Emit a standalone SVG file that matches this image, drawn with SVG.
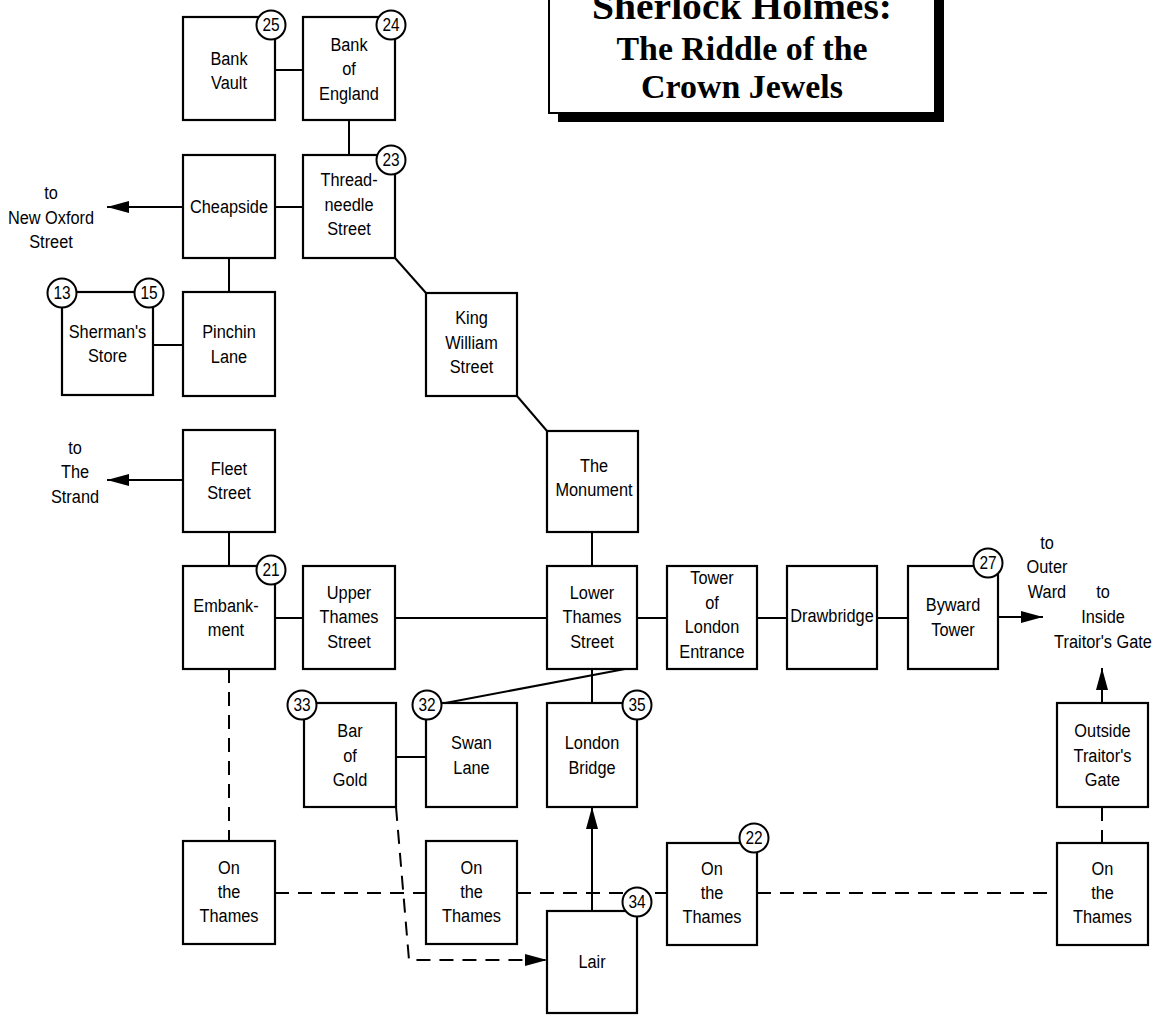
<svg xmlns="http://www.w3.org/2000/svg" width="1165" height="1016" viewBox="0 0 1165 1016">
<style>
.bx{fill:#fff;stroke:#000;stroke-width:2.2}
.ci{fill:#fff;stroke:#000;stroke-width:2}
.t{font-family:"Liberation Sans",Arial,sans-serif;font-size:19px;text-anchor:middle;fill:#000;transform-box:fill-box;transform-origin:center;transform:scaleX(0.86)}
.n{font-family:"Liberation Sans",Arial,sans-serif;font-size:18px;text-anchor:middle;fill:#000;transform-box:fill-box;transform-origin:center;transform:scaleX(0.86)}
.ln{stroke:#000;stroke-width:2;fill:none}
.ds{stroke:#000;stroke-width:2;fill:none;stroke-dasharray:14 9}
.ttl{font-family:"Liberation Serif","Times New Roman",serif;font-weight:bold;text-anchor:middle;fill:#000}
</style>
<defs>
<marker id="ah" markerUnits="userSpaceOnUse" markerWidth="22" markerHeight="12" refX="22" refY="6" orient="auto">
<path d="M0,0 L22,6 L0,12 Z" fill="#000"/>
</marker>
</defs>
<rect width="1165" height="1016" fill="#fff"/>

<g id="title">
<rect x="558" y="-11" width="386" height="133" fill="#000"/>
<rect x="549" y="-20" width="386" height="133" fill="#fff" stroke="#000" stroke-width="2"/>
<text class="ttl" x="742" y="19" font-size="38" textLength="300" lengthAdjust="spacingAndGlyphs">Sherlock Holmes:</text>
<text class="ttl" x="742" y="60" font-size="33" textLength="251" lengthAdjust="spacingAndGlyphs">The Riddle of the</text>
<text class="ttl" x="742" y="98" font-size="33" textLength="202" lengthAdjust="spacingAndGlyphs">Crown Jewels</text>
</g>

<g id="connectors">
<line class="ln" x1="275" y1="70" x2="303" y2="70"/>
<line class="ln" x1="349" y1="120" x2="349" y2="155"/>
<line class="ln" x1="275" y1="207" x2="303" y2="207"/>
<line class="ln" x1="183" y1="207" x2="107" y2="207" marker-end="url(#ah)"/>
<line class="ln" x1="229" y1="258" x2="229" y2="292"/>
<line class="ln" x1="153" y1="345" x2="183" y2="345"/>
<line class="ln" x1="395" y1="258" x2="426" y2="293"/>
<line class="ln" x1="517" y1="396" x2="547" y2="431"/>
<line class="ln" x1="183" y1="480" x2="107" y2="480" marker-end="url(#ah)"/>
<line class="ln" x1="229" y1="532" x2="229" y2="566"/>
<line class="ln" x1="275" y1="618" x2="303" y2="618"/>
<line class="ln" x1="395" y1="618" x2="547" y2="618"/>
<line class="ln" x1="592" y1="532" x2="592" y2="566"/>
<line class="ln" x1="637" y1="618" x2="667" y2="618"/>
<line class="ln" x1="757" y1="618" x2="787" y2="618"/>
<line class="ln" x1="877" y1="618" x2="908" y2="618"/>
<line class="ln" x1="998" y1="617" x2="1043" y2="617" marker-end="url(#ah)"/>
<line class="ln" x1="592" y1="669" x2="592" y2="703"/>
<line class="ln" x1="625" y1="669" x2="440" y2="704"/>
<line class="ln" x1="396" y1="757" x2="426" y2="757"/>
<line class="ln" x1="1102" y1="703" x2="1102" y2="668" marker-end="url(#ah)"/>
<line class="ln" x1="592" y1="911" x2="592" y2="807" marker-end="url(#ah)"/>
<line class="ds" x1="229" y1="669" x2="229" y2="841"/>
<line class="ds" x1="275" y1="893" x2="426" y2="893"/>
<line class="ds" x1="517" y1="893" x2="667" y2="893"/>
<line class="ds" x1="757" y1="893" x2="1057" y2="893"/>
<line class="ds" x1="1102" y1="807" x2="1102" y2="843"/>
<path class="ds" d="M396,807 L409,960 L547,960" marker-end="url(#ah)"/>
</g>

<g id="bank-vault">
<rect class="bx" x="183" y="17" width="92" height="103"/>
<text class="t" x="229" y="65">Bank</text>
<text class="t" x="229" y="89.5">Vault</text>
<circle class="ci" cx="271" cy="25" r="14.5"/><text class="n" x="271" y="31.5">25</text>
</g>
<g id="bank-of-england">
<rect class="bx" x="303" y="17" width="92" height="103"/>
<text class="t" x="349" y="51.5">Bank</text>
<text class="t" x="349" y="75.5">of</text>
<text class="t" x="349" y="100">England</text>
<circle class="ci" cx="391" cy="25" r="14.5"/><text class="n" x="391" y="31.5">24</text>
</g>
<g id="cheapside">
<rect class="bx" x="183" y="155" width="92" height="103"/>
<text class="t" x="229" y="213.5">Cheapside</text>
</g>
<g id="threadneedle-street">
<rect class="bx" x="303" y="155" width="92" height="103"/>
<text class="t" x="349" y="186.5">Thread-</text>
<text class="t" x="349" y="211">needle</text>
<text class="t" x="349" y="235.5">Street</text>
<circle class="ci" cx="391" cy="160" r="14.5"/><text class="n" x="391" y="166.5">23</text>
</g>
<g id="shermans-store">
<rect class="bx" x="62" y="292" width="91" height="103"/>
<text class="t" x="107.5" y="338.5">Sherman's</text>
<text class="t" x="107.5" y="362">Store</text>
<circle class="ci" cx="62" cy="293" r="14.5"/><text class="n" x="62" y="299.5">13</text>
<circle class="ci" cx="149" cy="293" r="14.5"/><text class="n" x="149" y="299.5">15</text>
</g>
<g id="pinchin-lane">
<rect class="bx" x="183" y="292" width="92" height="104"/>
<text class="t" x="229" y="338.5">Pinchin</text>
<text class="t" x="229" y="363">Lane</text>
</g>
<g id="king-william-street">
<rect class="bx" x="426" y="293" width="91" height="103"/>
<text class="t" x="471.5" y="324.5">King</text>
<text class="t" x="471.5" y="349">William</text>
<text class="t" x="471.5" y="373.5">Street</text>
</g>
<g id="fleet-street">
<rect class="bx" x="183" y="430" width="92" height="102"/>
<text class="t" x="229" y="475.5">Fleet</text>
<text class="t" x="229" y="499">Street</text>
</g>
<g id="the-monument">
<rect class="bx" x="547" y="431" width="91" height="101"/>
<text class="t" x="594" y="472">The</text>
<text class="t" x="594" y="496.5">Monument</text>
</g>
<g id="embankment">
<rect class="bx" x="183" y="566" width="92" height="103"/>
<text class="t" x="226" y="612.5">Embank-</text>
<text class="t" x="226" y="636">ment</text>
<circle class="ci" cx="271" cy="570" r="14.5"/><text class="n" x="271" y="576.5">21</text>
</g>
<g id="upper-thames-street">
<rect class="bx" x="303" y="566" width="92" height="103"/>
<text class="t" x="349" y="599">Upper</text>
<text class="t" x="349" y="623.5">Thames</text>
<text class="t" x="349" y="648">Street</text>
</g>
<g id="lower-thames-street">
<rect class="bx" x="547" y="566" width="90" height="103"/>
<text class="t" x="592" y="599">Lower</text>
<text class="t" x="592" y="623.5">Thames</text>
<text class="t" x="592" y="648">Street</text>
</g>
<g id="tower-of-london-entrance">
<rect class="bx" x="667" y="566" width="90" height="103"/>
<text class="t" x="712" y="584.5">Tower</text>
<text class="t" x="712" y="609">of</text>
<text class="t" x="712" y="633.5">London</text>
<text class="t" x="712" y="658">Entrance</text>
</g>
<g id="drawbridge">
<rect class="bx" x="787" y="566" width="90" height="103"/>
<text class="t" x="832" y="622">Drawbridge</text>
</g>
<g id="byward-tower">
<rect class="bx" x="908" y="566" width="90" height="103"/>
<text class="t" x="953" y="611.5">Byward</text>
<text class="t" x="953" y="636">Tower</text>
<circle class="ci" cx="988" cy="563" r="14.5"/><text class="n" x="988" y="569.5">27</text>
</g>
<g id="to-outer-ward">
<text class="t" x="1047" y="549.5">to</text>
<text class="t" x="1047" y="573.5">Outer</text>
<text class="t" x="1047" y="598">Ward</text>
</g>
<g id="to-inside-traitors-gate">
<text class="t" x="1103" y="598.5">to</text>
<text class="t" x="1103" y="623">Inside</text>
<text class="t" x="1103" y="648">Traitor's Gate</text>
</g>
<g id="to-new-oxford-street">
<text class="t" x="51" y="199.5">to</text>
<text class="t" x="51" y="224">New Oxford</text>
<text class="t" x="51" y="248">Street</text>
</g>
<g id="to-the-strand">
<text class="t" x="75" y="454.5">to</text>
<text class="t" x="75" y="478.5">The</text>
<text class="t" x="75" y="503">Strand</text>
</g>
<g id="bar-of-gold">
<rect class="bx" x="304" y="703" width="92" height="104"/>
<text class="t" x="350" y="737.5">Bar</text>
<text class="t" x="350" y="762">of</text>
<text class="t" x="350" y="786.5">Gold</text>
<circle class="ci" cx="302" cy="705" r="14.5"/><text class="n" x="302" y="711.5">33</text>
</g>
<g id="swan-lane">
<rect class="bx" x="426" y="703" width="91" height="104"/>
<text class="t" x="471.5" y="749.5">Swan</text>
<text class="t" x="471.5" y="774">Lane</text>
<circle class="ci" cx="427" cy="705" r="14.5"/><text class="n" x="427" y="711.5">32</text>
</g>
<g id="london-bridge">
<rect class="bx" x="547" y="703" width="90" height="104"/>
<text class="t" x="592" y="749.5">London</text>
<text class="t" x="592" y="774">Bridge</text>
<circle class="ci" cx="637" cy="705" r="14.5"/><text class="n" x="637" y="711.5">35</text>
</g>
<g id="outside-traitors-gate">
<rect class="bx" x="1057" y="703" width="91" height="104"/>
<text class="t" x="1102.5" y="737.5">Outside</text>
<text class="t" x="1102.5" y="762">Traitor's</text>
<text class="t" x="1102.5" y="786.5">Gate</text>
</g>
<g id="on-the-thames-1">
<rect class="bx" x="183" y="841" width="92" height="103"/>
<text class="t" x="229" y="874">On</text>
<text class="t" x="229" y="898">the</text>
<text class="t" x="229" y="922">Thames</text>
</g>
<g id="on-the-thames-2">
<rect class="bx" x="426" y="841" width="91" height="103"/>
<text class="t" x="471.5" y="874">On</text>
<text class="t" x="471.5" y="898">the</text>
<text class="t" x="471.5" y="922">Thames</text>
</g>
<g id="on-the-thames-3">
<rect class="bx" x="667" y="843" width="90" height="102"/>
<text class="t" x="712" y="875.5">On</text>
<text class="t" x="712" y="899.5">the</text>
<text class="t" x="712" y="923.5">Thames</text>
<circle class="ci" cx="754" cy="838" r="14.5"/><text class="n" x="754" y="844.5">22</text>
</g>
<g id="on-the-thames-4">
<rect class="bx" x="1057" y="843" width="91" height="102"/>
<text class="t" x="1102.5" y="875.5">On</text>
<text class="t" x="1102.5" y="899.5">the</text>
<text class="t" x="1102.5" y="923.5">Thames</text>
</g>
<g id="lair">
<rect class="bx" x="547" y="911" width="90" height="102"/>
<text class="t" x="592" y="968.5">Lair</text>
<circle class="ci" cx="637" cy="902" r="14.5"/><text class="n" x="637" y="908.5">34</text>
</g>
</svg>
